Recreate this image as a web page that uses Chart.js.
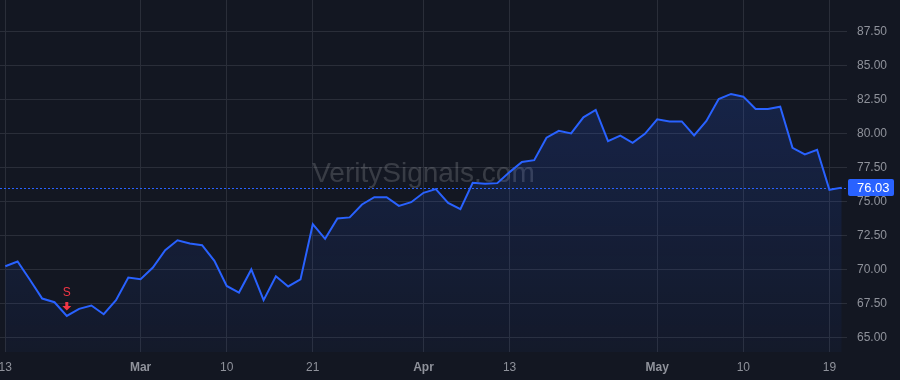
<!DOCTYPE html>
<html>
<head>
<meta charset="utf-8">
<script src="https://cdn.jsdelivr.net/npm/chart.js@4.4.1/dist/chart.umd.min.js"></script>
<style>
  html, body { margin: 0; padding: 0; background: #131722; }
  #wrap { width: 900px; height: 380px; position: relative; }
</style>
</head>
<body>
<div id="wrap"><canvas id="priceChart"></canvas></div>
<script>
// daily closes, one per trading session
const closes = [
    70.25, 70.60, 69.25, 67.87, 67.60, 66.59, 67.11, 67.36, 66.72, 67.75,
    69.42, 69.29, 70.15, 71.43, 72.16, 71.92, 71.80, 70.64, 68.80, 68.31,
    70.01, 67.75, 69.51, 68.76, 69.28, 73.34, 72.26, 73.76, 73.84, 74.79,
    75.33, 75.33, 74.69, 74.96, 75.65, 75.92, 74.91, 74.45, 76.38, 76.31,
    76.36, 77.17, 77.91, 78.05, 79.70, 80.21, 80.02, 81.20, 81.74, 79.45,
    79.85, 79.33, 79.99, 81.05, 80.90, 80.90, 79.87, 80.93, 82.55, 82.92,
    82.72, 81.81, 81.81, 81.98, 78.96, 78.47, 78.81, 75.87, 76.03
];

// x axis labels (session index -> text)
const tickIdx = [0, 11, 18, 25, 34, 41, 53, 60, 67];
const tickText = ['13', 'Mar', '10', '21', 'Apr', '13', 'May', '10', '19'];

const yTicks = [65, 67.5, 70, 72.5, 75, 77.5, 80, 82.5, 85, 87.5];

// sell signal
const signalIdx = 5;
const signalText = 'S';

const watermark = 'VeritySignals.com';

const blue = '#2962ff';
const gridColor = '#2a2e39';
const labelColor = '#8f929b';
const fontFam = '"Liberation Sans", Arial, sans-serif';

const lastValue = closes[closes.length - 1];

const overlayPlugin = {
    id: 'overlay',
    beforeDatasetsDraw(chart) {
        const ctx = chart.ctx;
        const a = chart.chartArea;
        ctx.save();
        ctx.font = '28px ' + fontFam;
        ctx.fillStyle = 'rgba(255,255,255,0.16)';
        ctx.textAlign = 'center';
        ctx.textBaseline = 'alphabetic';
        ctx.fillText(watermark, (a.left + a.right) / 2, 182);
        ctx.restore();
    },
    afterDatasetsDraw(chart) {
        const ctx = chart.ctx;
        const a = chart.chartArea;
        const xs = chart.scales.x;
        const ys = chart.scales.y;

        // last price line
        const py = Math.round(ys.getPixelForValue(lastValue)) + 0.5;
        ctx.save();
        ctx.strokeStyle = blue;
        ctx.lineWidth = 1;
        ctx.setLineDash([2, 2]);
        ctx.beginPath();
        ctx.moveTo(a.left, py);
        ctx.lineTo(a.right, py);
        ctx.stroke();
        ctx.restore();

        // signal marker
        const sx = xs.getPixelForValue(signalIdx);
        const sy = ys.getPixelForValue(closes[signalIdx]);
        ctx.save();
        ctx.fillStyle = '#f23645';
        ctx.beginPath();
        ctx.rect(sx - 1.5, sy - 14, 3, 5);
        ctx.moveTo(sx - 4.5, sy - 10);
        ctx.lineTo(sx + 4.5, sy - 10);
        ctx.lineTo(sx, sy - 5.5);
        ctx.closePath();
        ctx.fill();
        ctx.font = '12px ' + fontFam;
        ctx.textAlign = 'center';
        ctx.textBaseline = 'middle';
        ctx.fillText(signalText, sx, sy - 23);
        ctx.restore();
    },
    afterDraw(chart) {
        const ctx = chart.ctx;
        const a = chart.chartArea;
        const ys = chart.scales.y;
        const py = ys.getPixelForValue(lastValue);
        ctx.save();
        ctx.fillStyle = blue;
        ctx.beginPath();
        ctx.roundRect(a.right + 1, py - 8.5, 46, 17, 2);
        ctx.fill();
        ctx.fillStyle = '#ffffff';
        ctx.font = '13px ' + fontFam;
        ctx.textAlign = 'left';
        ctx.textBaseline = 'middle';
        ctx.fillText(lastValue.toFixed(2), a.right + 10, py + 0.5);
        ctx.restore();
    }
};

const chartCtx = document.getElementById('priceChart').getContext('2d');
new Chart(chartCtx, {
    type: 'line',
    data: {
        datasets: [{
            data: closes.map((v, i) => ({ x: i, y: v })),
            borderColor: blue,
            borderWidth: 2,
            pointRadius: 0,
            tension: 0,
            fill: 'start',
            backgroundColor: function(context) {
                const area = context.chart.chartArea;
                if (!area) return 'rgba(41,98,255,0.1)';
                const g = context.chart.ctx.createLinearGradient(0, area.top, 0, area.bottom);
                g.addColorStop(0, 'rgba(41,98,255,0.22)');
                g.addColorStop(1, 'rgba(41,98,255,0.04)');
                return g;
            }
        }]
    },
    options: {
        responsive: true,
        maintainAspectRatio: false,
        animation: false,
        layout: { padding: 0 },
        plugins: {
            legend: { display: false },
            tooltip: { enabled: false }
        },
        scales: {
            x: {
                type: 'linear',
                min: -0.43,
                max: 68.43,
                afterBuildTicks: scale => {
                    scale.ticks = tickIdx.map(i => ({ value: i }));
                },
                afterFit: scale => {
                    scale.height = 28;
                    scale.paddingLeft = 0;
                    scale.paddingRight = 0;
                },
                grid: { color: gridColor, drawTicks: false },
                border: { display: false },
                ticks: {
                    autoSkip: false,
                    maxRotation: 0,
                    padding: 8,
                    color: labelColor,
                    font: c => ({
                        family: fontFam,
                        size: 12,
                        weight: /[A-Za-z]/.test(tickText[c.index] || '') ? 'bold' : 'normal'
                    }),
                    callback: (v, i) => tickText[i]
                }
            },
            y: {
                position: 'right',
                min: 63.94,
                max: 89.83,
                afterBuildTicks: scale => {
                    scale.ticks = yTicks.map(v => ({ value: v }));
                },
                afterFit: scale => {
                    scale.width = 53;
                    scale.paddingTop = 0;
                    scale.paddingBottom = 0;
                },
                grid: { color: gridColor, drawTicks: false },
                border: { display: false },
                ticks: {
                    padding: 10,
                    color: labelColor,
                    font: { family: fontFam, size: 12 },
                    callback: v => Number(v).toFixed(2)
                }
            }
        }
    },
    plugins: [overlayPlugin]
});
</script>
</body>
</html>
